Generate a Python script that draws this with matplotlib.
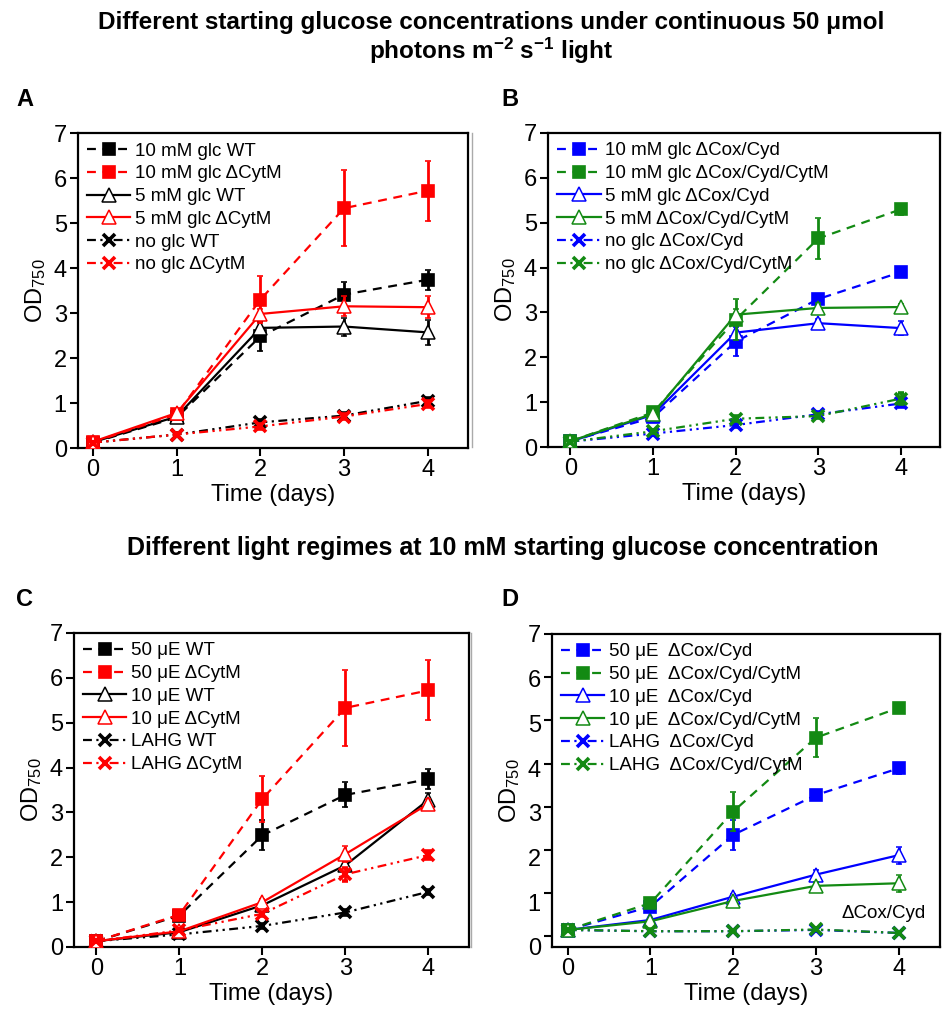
import numpy as np
import matplotlib
matplotlib.use("Agg")
import matplotlib.pyplot as plt
from matplotlib.lines import Line2D

plt.rcParams['font.family'] = ['Liberation Sans', 'DejaVu Sans']
plt.rcParams['mathtext.fontset'] = 'custom'
plt.rcParams['mathtext.rm'] = 'Liberation Sans'
plt.rcParams['mathtext.bf'] = 'Liberation Sans:bold'
plt.rcParams['mathtext.default'] = 'regular'

days = [0, 1, 2, 3, 4]

# ---- panel A: glucose, WT / dCytM
a_labels = ["10 mM glc WT", "10 mM glc \u0394CytM", "5 mM glc WT",
            "5 mM glc \u0394CytM", "no glc WT", "no glc \u0394CytM"]
a_vals = [[0.12, 0.68, 2.48, 3.41, 3.74],
          [0.13, 0.75, 3.30, 5.33, 5.72],
          [0.13, 0.70, 2.67, 2.70, 2.57],
          [0.14, 0.78, 2.98, 3.15, 3.13],
          [0.12, 0.30, 0.57, 0.72, 1.05],
          [0.12, 0.30, 0.48, 0.70, 0.98]]
a_err = [[0.02, 0.06, 0.33, 0.28, 0.22],
         [0.02, 0.08, 0.52, 0.85, 0.67],
         [0.02, 0.05, 0.15, 0.20, 0.27],
         [0.02, 0.05, 0.10, 0.22, 0.25],
         [0.02, 0.03, 0.05, 0.05, 0.06],
         [0.02, 0.03, 0.05, 0.05, 0.06]]

# ---- panel B: glucose, dCox/Cyd / dCox/Cyd/CytM
b_labels = ["10 mM glc \u0394Cox/Cyd", "10 mM glc \u0394Cox/Cyd/CytM",
            "5 mM glc \u0394Cox/Cyd", "5 mM \u0394Cox/Cyd/CytM",
            "no glc \u0394Cox/Cyd", "no glc \u0394Cox/Cyd/CytM"]
b_vals = [[0.13, 0.66, 2.35, 3.30, 3.90],
          [0.13, 0.77, 2.84, 4.65, 5.30],
          [0.12, 0.72, 2.55, 2.76, 2.65],
          [0.13, 0.74, 2.95, 3.10, 3.12],
          [0.12, 0.30, 0.49, 0.73, 0.97],
          [0.12, 0.35, 0.63, 0.69, 1.08]]
b_err = [[0.02, 0.05, 0.33, 0.08, 0.12],
         [0.02, 0.05, 0.45, 0.45, 0.12],
         [0.02, 0.05, 0.15, 0.10, 0.15],
         [0.02, 0.05, 0.12, 0.10, 0.07],
         [0.02, 0.03, 0.05, 0.05, 0.08],
         [0.02, 0.03, 0.05, 0.05, 0.12]]

# ---- panel C: light regimes, WT / dCytM
c_labels = ["50 \u03bcE WT", "50 \u03bcE \u0394CytM", "10 \u03bcE WT",
            "10 \u03bcE \u0394CytM", "LAHG WT", "LAHG \u0394CytM"]
c_vals = [[0.13, 0.70, 2.49, 3.39, 3.74],
          [0.13, 0.72, 3.30, 5.33, 5.72],
          [0.13, 0.33, 0.93, 1.82, 3.28],
          [0.13, 0.35, 1.00, 2.07, 3.19],
          [0.13, 0.28, 0.47, 0.77, 1.23],
          [0.13, 0.37, 0.74, 1.62, 2.05]]
c_err = [[0.02, 0.05, 0.33, 0.28, 0.22],
         [0.02, 0.08, 0.52, 0.85, 0.67],
         [0.02, 0.03, 0.06, 0.10, 0.15],
         [0.02, 0.03, 0.06, 0.18, 0.10],
         [0.02, 0.03, 0.04, 0.05, 0.05],
         [0.02, 0.03, 0.05, 0.15, 0.08]]

# ---- panel D: light regimes, dCox/Cyd / dCox/Cyd/CytM
d_labels = ["50 \u03bcE  \u0394Cox/Cyd", "50 \u03bcE  \u0394Cox/Cyd/CytM",
            "10 \u03bcE  \u0394Cox/Cyd", "10 \u03bcE  \u0394Cox/Cyd/CytM",
            "LAHG  \u0394Cox/Cyd", "LAHG  \u0394Cox/Cyd/CytM"]
d_vals = [[0.15, 0.69, 2.35, 3.27, 3.89],
          [0.15, 0.77, 2.89, 4.60, 5.29],
          [0.15, 0.38, 0.92, 1.43, 1.88],
          [0.15, 0.35, 0.82, 1.17, 1.23],
          [0.15, 0.12, 0.12, 0.15, 0.08],
          [0.15, 0.12, 0.12, 0.16, 0.08]]
d_err = [[0.02, 0.05, 0.35, 0.07, 0.12],
         [0.02, 0.05, 0.45, 0.45, 0.10],
         [0.02, 0.03, 0.06, 0.10, 0.20],
         [0.02, 0.03, 0.06, 0.10, 0.20],
         [0.02, 0.02, 0.02, 0.02, 0.02],
         [0.02, 0.02, 0.02, 0.02, 0.02]]

RED = '#ff0000'
BLUE = '#0000ff'
GREEN = '#138a13'
DASH = (0, (4, 3))
DDOT = (0, (4, 2, 1, 2, 1, 2))


def mstyle(mk):
    # marker size / edge width per marker type
    if mk == 's':
        return 8, 1.2
    if mk == '^':
        return 9.5, 1.1
    return 8.5, 2.6


def draw_panel(ax, vals, errs, labels, c1, c2, xlim, ylim):
    styles = [(c1, 's', DASH, c1), (c2, 's', DASH, c2),
              (c1, '^', '-', 'white'), (c2, '^', '-', 'white'),
              (c1, 'x', DDOT, c1), (c2, 'x', DDOT, c2)]
    handles = []
    for i in range(6):
        col, mk, ls, fc = styles[i]
        ms, mew = mstyle(mk)
        ax.errorbar(days, vals[i], yerr=errs[i], color=col, ls=ls, lw=1.6,
                    marker=mk, ms=ms, mfc=fc, mec=col, mew=mew,
                    elinewidth=2, capsize=2.5, capthick=1.5, zorder=3 + i % 2)
        handles.append(Line2D([], [], color=col, ls=ls, lw=1.6, marker=mk,
                              ms=ms, mfc=fc, mec=col, mew=mew))
    ax.set_xlim(*xlim)
    ax.set_ylim(*ylim)
    ax.set_xticks(days)
    ax.set_yticks(range(8))
    ax.tick_params(direction='out', length=6, width=1.5, labelsize=17, pad=2,
                   top=False, right=False)
    for s in ax.spines.values():
        s.set_linewidth(1.6)
    ax.set_xlabel('Time (days)', fontsize=17, labelpad=2)
    ax.set_ylabel('OD$_{750}$', fontsize=17, labelpad=4)
    ax.legend(handles, labels, loc='upper left', frameon=False, fontsize=13.5,
              handlelength=2.3, handletextpad=0.25, labelspacing=0.3,
              borderaxespad=0.2, borderpad=0.3)


fig = plt.figure(figsize=(9.45, 10.15), dpi=100)

axA = fig.add_axes([0.0825, 0.5586, 0.4127, 0.3103])
axB = fig.add_axes([0.5799, 0.5596, 0.4148, 0.3094])
axC = fig.add_axes([0.0783, 0.0670, 0.4180, 0.3094])
axD = fig.add_axes([0.5841, 0.0670, 0.4106, 0.3084])

draw_panel(axA, a_vals, a_err, a_labels, 'black', RED, (-0.18, 4.48), (0, 7))
draw_panel(axB, b_vals, b_err, b_labels, BLUE, GREEN, (-0.27, 4.47), (0, 7))
draw_panel(axC, c_vals, c_err, c_labels, 'black', RED, (-0.27, 4.49), (0, 7))
draw_panel(axD, d_vals, d_err, d_labels, BLUE, GREEN, (-0.19, 4.5), (-0.2, 7))

# panel D: tick labels drift slightly from the tick marks in the original
yt = np.arange(8)
axD.yaxis.remove_overlapping_locs = False
axD.set_yticks(yt)
axD.set_yticklabels([])
axD.set_yticks(7 - (7 - yt) * 1.035, minor=True)
axD.set_yticklabels([str(v) for v in yt], minor=True)
axD.tick_params(axis='y', which='minor', length=0, labelsize=17, pad=8)
axD.text(4.33, 0.33, '\u0394Cox/Cyd', fontsize=13.5, ha='right', va='bottom')

# thin gray separators left of the right-hand panels
fig.add_artist(Line2D([472 / 945, 472 / 945], [1 - 133 / 1015, 1 - 447 / 1015],
                      color='#aaaaaa', lw=1))
fig.add_artist(Line2D([471 / 945, 471 / 945], [1 - 633 / 1015, 1 - 947 / 1015],
                      color='#aaaaaa', lw=1))

fig.text(0.52, 0.962,
         'Different starting glucose concentrations under continuous 50 \u03bcmol\n'
         'photons m$^{\\mathbf{-2}}$ s$^{\\mathbf{-1}}$ light',
         ha='center', va='center', fontsize=17.5, fontweight='bold',
         linespacing=1.1)
fig.text(0.532, 0.46,
         'Different light regimes at 10 mM starting glucose concentration',
         ha='center', va='center', fontsize=18, fontweight='bold')

for lab, x, y in [('A', 25, 100), ('B', 510, 100), ('C', 25, 600), ('D', 510, 600)]:
    fig.text(x / 945, 1 - y / 1015, lab, ha='center', va='center',
             fontsize=17, fontweight='bold')

fig.savefig('out.png', dpi=100)
